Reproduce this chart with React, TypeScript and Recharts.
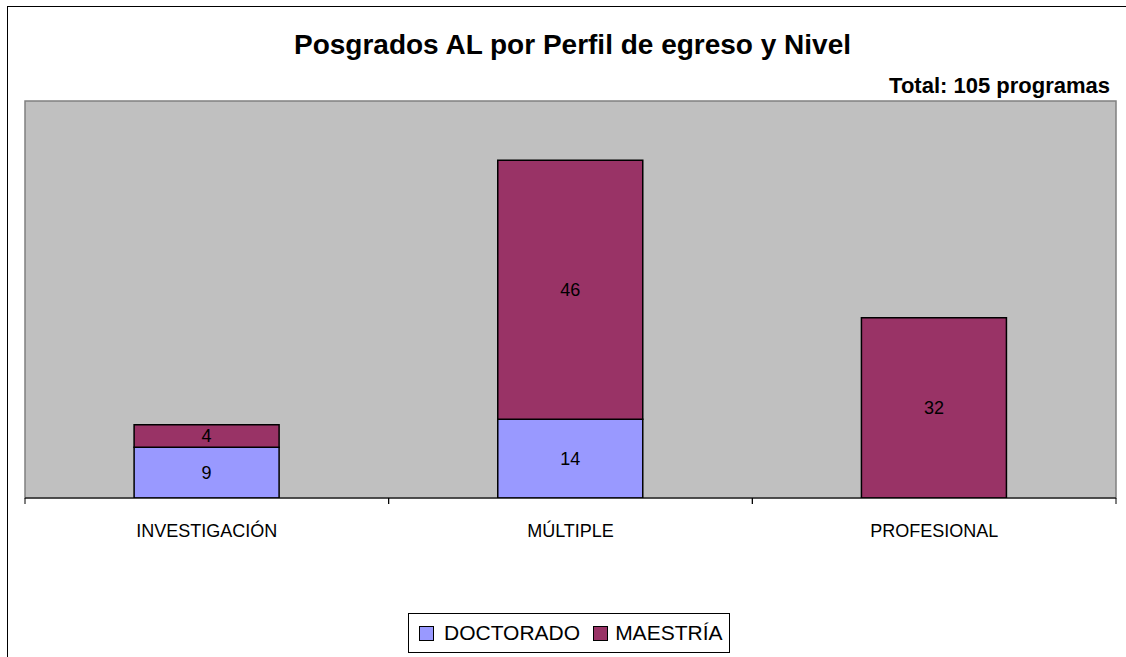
import React from 'react';
import { Bar, BarChart, LabelList, ReferenceArea, XAxis, YAxis } from 'recharts';

const categories = ['INVESTIGACIÓN', 'MÚLTIPLE', 'PROFESIONAL'];
const doctorado = [9, 14, 0];
const maestria = [4, 46, 32];
const seriesNames = ['DOCTORADO', 'MAESTRÍA'];
const seriesColors = ['#9999FF', '#993366'];

const data = categories.map((name, i) => ({
    name,
    DOCTORADO: doctorado[i],
    MAESTRÍA: maestria[i],
}));

const FONT = '"Liberation Sans", Arial, sans-serif';
const W = 1126;
const H = 657;
const AXIS_H = 40;
const AXIS_Y = H - 159; // where the x axis line sits
const margin = { top: 101, right: 10, bottom: 159 - AXIS_H, left: 25 };
// half the width of one category band, used for the boundary ticks
const halfBand = (W - margin.left - margin.right) / categories.length / 2;

const CategoryTick = (props: any) => {
    const { x, payload } = props;
    return (
        <g>
            <line x1={x - halfBand} x2={x - halfBand} y1={AXIS_Y} y2={AXIS_Y + 6} stroke="#000" />
            <line x1={x + halfBand} x2={x + halfBand} y1={AXIS_Y} y2={AXIS_Y + 6} stroke="#000" />
            <text x={x} y={AXIS_Y + 33} textAnchor="middle" dominantBaseline="central"
                fontSize={18} fontFamily={FONT} fill="#000">
                {payload.value}
            </text>
        </g>
    );
};

const hideZero = (v: any) => (v ? v : '');

export default function App() {
    return (
        <div style={{ position: 'absolute', left: 0, top: 0, width: W, height: H, overflow: 'hidden', background: '#fff', fontFamily: FONT }}>
            <div style={{ position: 'absolute', left: 7, top: 6, width: W + 100, height: H + 100, border: '1.5px solid #000', boxSizing: 'border-box' }} />
            <div style={{ position: 'absolute', left: 0, width: 1145, top: 29, textAlign: 'center', fontSize: 28, fontWeight: 'bold' }}>
                Posgrados AL por Perfil de egreso y Nivel
            </div>
            <div style={{ position: 'absolute', right: 16, top: 73, fontSize: 22, fontWeight: 'bold' }}>
                Total: 105 programas
            </div>
            <div style={{ position: 'absolute', left: 0, top: 0 }}>
                <BarChart width={W} height={H} data={data} margin={margin} barCategoryGap="30%">
                    <YAxis hide domain={[0, 70.5]} allowDataOverflow />
                    <ReferenceArea y1={0} y2={70.5} fill="#C0C0C0" fillOpacity={1} stroke="#808080" strokeWidth={1.5} />
                    <XAxis dataKey="name" axisLine={{ stroke: '#000' }} tickLine={false} tick={<CategoryTick />} interval={0} height={AXIS_H} />
                    {seriesNames.map((s, i) => (
                        <Bar key={s} dataKey={s} stackId="a" fill={seriesColors[i]} stroke="#000" strokeWidth={1.5} isAnimationActive={false}>
                            <LabelList dataKey={s} position="center" formatter={hideZero}
                                fill="#000" fontSize={18} fontFamily={FONT} />
                        </Bar>
                    ))}
                </BarChart>
            </div>
            <div style={{ position: 'absolute', left: 408, top: 613, width: 322, height: 40, border: '1px solid #000', boxSizing: 'border-box', display: 'flex', alignItems: 'center', paddingLeft: 10, fontSize: 21 }}>
                {seriesNames.map((s, i) => (
                    <span key={s} style={{ display: 'flex', alignItems: 'center', marginRight: i === 0 ? 13 : 0 }}>
                        <span style={{ display: 'inline-block', width: 13, height: 13, background: seriesColors[i], border: '1.5px solid #000', marginRight: i === 0 ? 10 : 7 }} />
                        {s}
                    </span>
                ))}
            </div>
        </div>
    );
}
